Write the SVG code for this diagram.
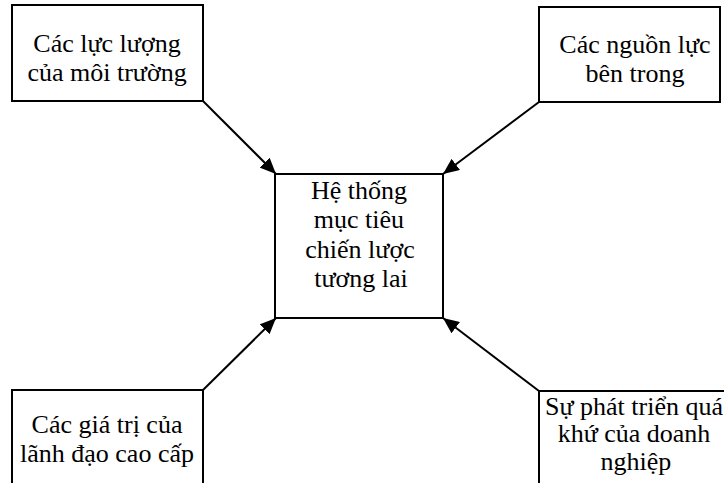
<svg xmlns="http://www.w3.org/2000/svg" width="724" height="483" viewBox="0 0 724 483">
  <style>
    .box { fill: #ffffff; stroke: #000000; stroke-width: 2; }
    .lbl { font-family: "Liberation Serif", "Times New Roman", serif; font-size: 26px; fill: #000000; text-anchor: middle; }
    .link { stroke: #000000; stroke-width: 2; fill: none; marker-end: url(#arrow); }
  </style>
  <defs>
    <marker id="arrow" viewBox="0 0 16 14" refX="16" refY="7" markerWidth="16" markerHeight="14" markerUnits="userSpaceOnUse" orient="auto">
      <path d="M0,0 L16,7 L0,14 Z" fill="#000000"/>
    </marker>
  </defs>
  <rect width="724" height="483" fill="#ffffff"/>

  <g id="connectors">
    <line class="link" x1="203" y1="101" x2="276" y2="174"/>
    <line class="link" x1="539" y1="102" x2="443" y2="174"/>
    <line class="link" x1="203" y1="390" x2="276" y2="318"/>
    <line class="link" x1="539" y1="391" x2="443" y2="318"/>
  </g>

  <g id="center">
    <rect class="box" x="275" y="174" width="168" height="144"/>
    <text class="lbl" x="359" y="199">Hệ thống</text>
    <text class="lbl" x="359" y="228">mục tiêu</text>
    <text class="lbl" x="360" y="258">chiến lược</text>
    <text class="lbl" x="361" y="287">tương lai</text>
  </g>

  <g id="environment">
    <rect class="box" x="12" y="5" width="191" height="96"/>
    <text class="lbl" x="107" y="52">Các lực lượng</text>
    <text class="lbl" x="107" y="81">của môi trường</text>
  </g>

  <g id="internal">
    <rect class="box" x="539" y="7" width="181" height="95"/>
    <text class="lbl" x="635" y="53">Các nguồn lực</text>
    <text class="lbl" x="635" y="82">bên trong</text>
  </g>

  <g id="leadership">
    <rect class="box" x="12" y="390" width="191" height="110"/>
    <text class="lbl" x="107" y="433">Các giá trị của</text>
    <text class="lbl" x="107" y="462">lãnh đạo cao cấp</text>
  </g>

  <g id="history">
    <rect class="box" x="539" y="391" width="200" height="110"/>
    <text class="lbl" x="634" y="415">Sự phát triển quá</text>
    <text class="lbl" x="634" y="442">khứ của doanh</text>
    <text class="lbl" x="636" y="470">nghiệp</text>
  </g>
</svg>
